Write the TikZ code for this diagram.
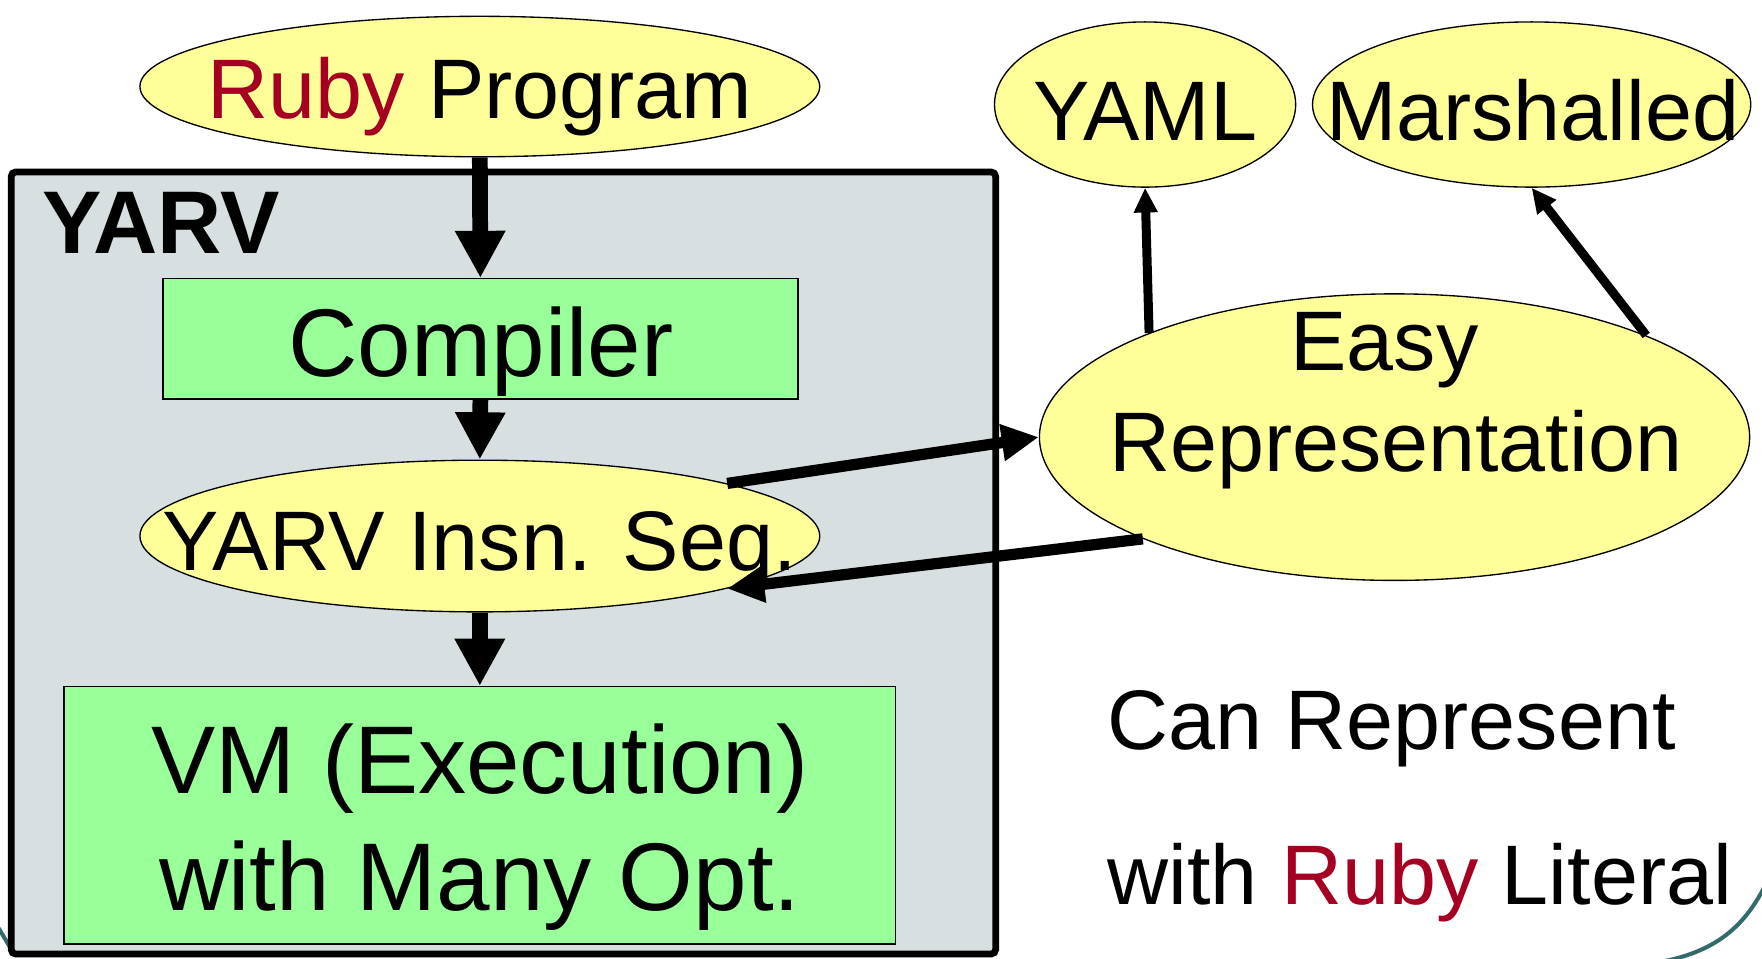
\documentclass[tikz,border=0pt]{standalone}
\usepackage{fontspec}
\setmainfont{Liberation Sans}
\usetikzlibrary{shapes.geometric,arrows.meta}
\definecolor{yel}{HTML}{FFFF99}
\definecolor{grn}{HTML}{99FF99}
\definecolor{boxgray}{HTML}{D7DFE0}
\definecolor{rubyred}{HTML}{A50021}
\definecolor{tealarc}{HTML}{336B6B}
\begin{document}
\begin{tikzpicture}[x=0.5pt,y=-0.5pt,
  ell/.style={ellipse, draw, fill=yel, line width=0.6pt, inner sep=0pt},
  grect/.style={rectangle, draw, fill=grn, line width=0.6pt, inner sep=0pt},
  lbl/.style={anchor=base, inner sep=0pt, font=\fontsize{37.6pt}{40pt}\selectfont},
  biglbl/.style={anchor=base, inner sep=0pt, font=\fontsize{42.8pt}{46pt}\selectfont},
  vertarrow/.style={line width=7pt, -{Triangle[length=21pt,width=21pt]}},
  diagarrow/.style={line width=5pt, -{Triangle[length=16.5pt,width=15.5pt]}},
  thinarrow/.style={line width=4pt, -{Triangle[length=11pt,width=10pt]}},
  arcline/.style={draw=tealarc, line width=1.8pt}
]
\useasboundingbox (0,0) rectangle (1568,853);
\fill[white] (0,0) rectangle (1568,853);
% background slide arcs
\draw[arcline] (-6,818) -- (12,848);
\draw[arcline] (1578,772) .. controls (1556,826) and (1525,850) .. (1465,858);
% YARV box
\node[draw, fill=boxgray, line width=3pt, rounded corners=2pt, minimum width=438pt, minimum height=348pt, inner sep=0pt] (yarv) at (448,501) {};
\node[anchor=base west, inner sep=0pt, font=\fontsize{39.6pt}{42pt}\selectfont\bfseries] (yarvlbl) at (37,226) {YARV};
% shapes
\node[ell, minimum width=302.5pt, minimum height=62.5pt] (ruby) at (427,77) {};
\node[grect, minimum width=282.5pt, minimum height=53.5pt] (comp) at (427.5,301.5) {};
\node[ell, minimum width=302.5pt, minimum height=67.5pt] (insn) at (427,477) {};
\node[grect, minimum width=370pt, minimum height=114.5pt] (vm) at (427,725.5) {};
\node[ell, minimum width=134pt, minimum height=73.5pt] (yaml) at (1019,93) {};
\node[ell, minimum width=195pt, minimum height=73.5pt] (marsh) at (1363,93) {};
\node[ell, minimum width=316pt, minimum height=127.5pt] (easy) at (1241,389) {};
% texts
\node[lbl] (rubyt) at (427,105) {\textcolor{rubyred}{Ruby} Program};
\node[biglbl] (compt) at (428,335) {Compiler};
\node[lbl] (insnt) at (427,508) {YARV Insn. Seq.};
\node[biglbl] (vmt1) at (427,706) {VM (Execution)};
\node[biglbl] (vmt2) at (427,810) {with Many Opt.};
\node[lbl] (yamlt) at (1019,125) {YAML};
\node[lbl] (marsht) at (1364,125) {Marshalled};
\node[lbl] (easyt1) at (1232,330) {Easy};
\node[lbl] (easyt2) at (1242,420) {Representation};
\node[lbl, anchor=base west] (can1) at (985,667) {Can Represent};
\node[lbl, anchor=base west] (can2) at (985,805) {with \textcolor{rubyred}{Ruby} Literal};
% arrows
\draw[vertarrow] (ruby.south) -- (comp.north);
\draw[vertarrow] (comp.south) -- (insn.north);
\draw[vertarrow] (insn.south) -- (vm.north);
\draw[diagarrow] (insn.12.4) -- (easy.west);
\draw[diagarrow] (easy.202.3) -- (insn.-12.6);
\draw[thinarrow] (easy.157.6) -- (yaml.south);
\draw[thinarrow] (easy.22.3) -- (marsh.south);
\end{tikzpicture}
\end{document}
